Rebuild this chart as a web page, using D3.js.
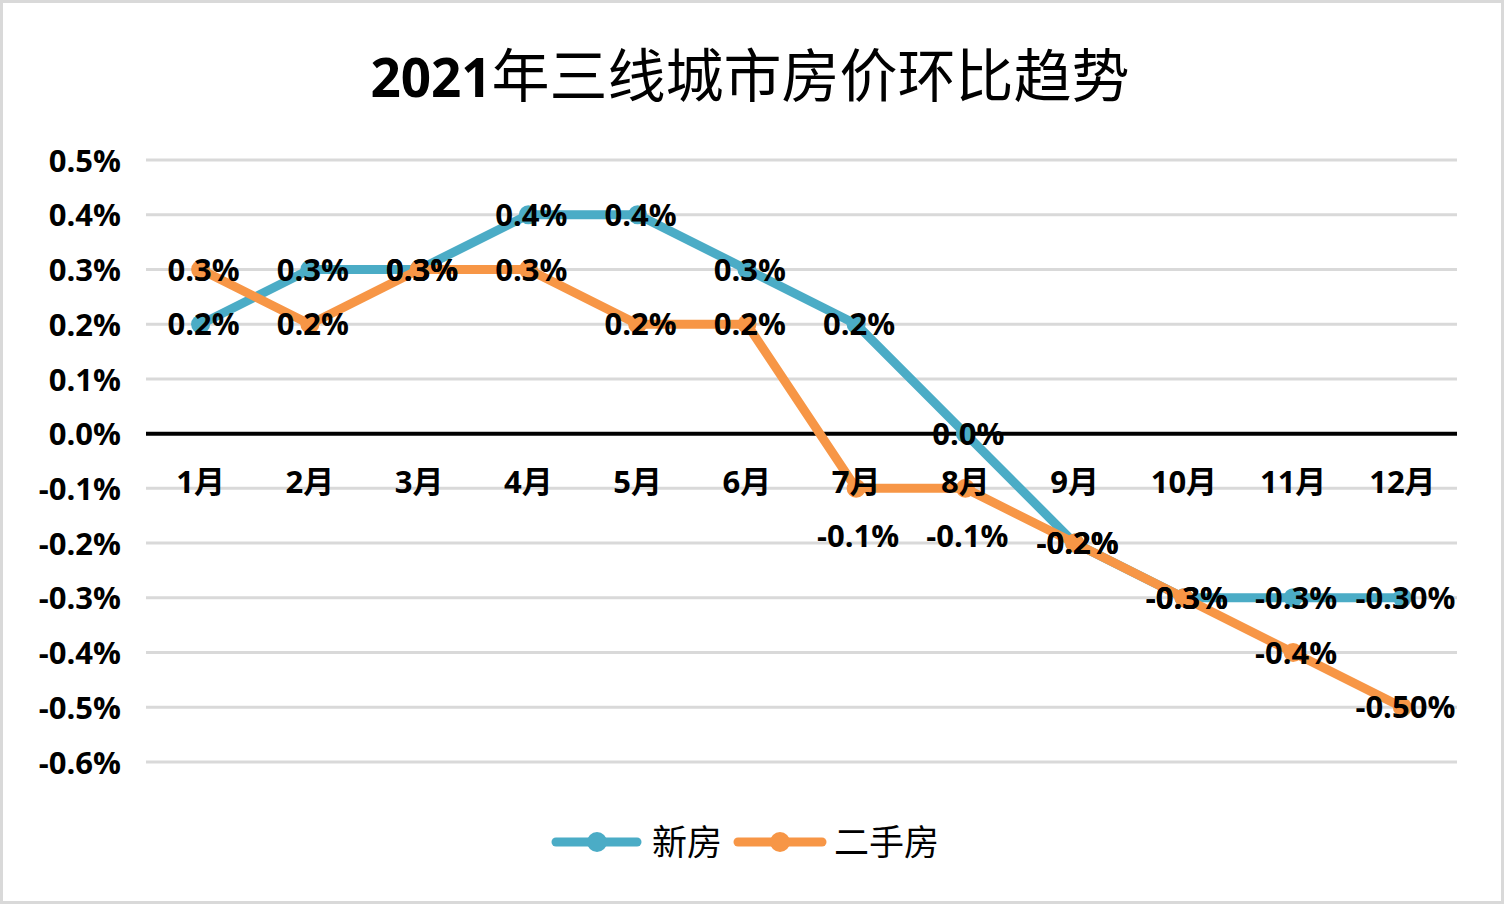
<!DOCTYPE html>
<html><head><meta charset="utf-8">
<script src="https://cdn.jsdelivr.net/npm/d3@7"></script>
<style>
html,body{margin:0;padding:0;background:#fff;}
svg{display:block;}
</style></head>
<body>
<svg id="chart" width="1504" height="904"></svg>
<script>
const categories = ["1月","2月","3月","4月","5月","6月","7月","8月","9月","10月","11月","12月"];
const newHome = [0.2,0.3,0.3,0.4,0.4,0.3,0.2,0.0,-0.2,-0.3,-0.3,-0.3];
const resale = [0.3,0.2,0.3,0.3,0.2,0.2,-0.1,-0.1,-0.2,-0.3,-0.4,-0.5];
const newHomeLabels = ["0.2%","0.3%","0.3%","0.4%","0.4%","0.3%","0.2%","0.0%","-0.2%","-0.3%","-0.3%","-0.30%"];
const resaleLabels = ["0.3%","0.2%","0.3%","0.3%","0.2%","0.2%","-0.1%","-0.1%","-0.2%","-0.3%","-0.4%","-0.50%"];
const resalePlacement = ["c","c","c","c","c","c","b","b","c","c","c","c"];
const yTicks = [0.5,0.4,0.3,0.2,0.1,0.0,-0.1,-0.2,-0.3,-0.4,-0.5,-0.6];
const seriesNames = ["新房","二手房"];
const colors = ["#4BACC6","#F79646"];

const svg = d3.select("#chart");
const W = 1504, H = 904;
svg.append("rect").attr("x",1.5).attr("y",1.5).attr("width",W-3).attr("height",H-3)
  .attr("fill","#fff").attr("stroke","#d9d9d9").attr("stroke-width",3);

const x = d3.scaleBand().domain(categories).range([146,1457]);
const y = d3.scaleLinear().domain([-0.6,0.5]).range([762,160]);
const cx = c => x(c) + x.bandwidth()/2;
const numFont = "'Open Sans','Noto Sans CJK SC',sans-serif";
const pct = d => (d < 0 ? "-" : "") + Math.abs(d).toFixed(1) + "%";

// title
const title = svg.append("text").attr("x",750).attr("y",97).attr("text-anchor","middle")
  .attr("fill","#000");
title.append("tspan").text("2021").attr("font-family",numFont).attr("font-weight",700).attr("font-size",53);
title.append("tspan").text("年三线城市房价环比趋势").attr("font-family","'Noto Sans CJK SC',sans-serif")
  .attr("font-weight",400).attr("font-size",58);

// grid
svg.append("g").selectAll("line").data(yTicks.filter(t=>t!==0)).join("line")
  .attr("x1",146).attr("x2",1457).attr("y1",d=>y(d)).attr("y2",d=>y(d))
  .attr("stroke","#d9d9d9").attr("stroke-width",3);

// y axis labels via axis
const yAxis = d3.axisLeft(y).tickValues(yTicks).tickFormat(pct).tickSize(0).tickPadding(0);
const yg = svg.append("g").attr("transform","translate(121,0)").call(yAxis);
yg.select(".domain").remove();
yg.selectAll("text").attr("font-family",numFont).attr("font-weight",700).attr("font-size",31).attr("fill","#000")
  .attr("dy","0.36em");

// zero line
svg.append("line").attr("x1",146).attr("x2",1457).attr("y1",y(0)).attr("y2",y(0))
  .attr("stroke","#000").attr("stroke-width",4);

// series
const series = [
  {name:seriesNames[0], values:newHome, labels:newHomeLabels, color:colors[0], place:newHome.map(()=>"c")},
  {name:seriesNames[1], values:resale, labels:resaleLabels, color:colors[1], place:resalePlacement}
];
const line = d3.line().x((d,i)=>cx(categories[i])).y(d=>y(d));
series.forEach(s=>{
  svg.append("path").datum(s.values).attr("d",line).attr("fill","none")
    .attr("stroke",s.color).attr("stroke-width",9).attr("stroke-linejoin","round").attr("stroke-linecap","round");
  svg.append("g").selectAll("circle").data(s.values).join("circle")
    .attr("cx",(d,i)=>cx(categories[i])).attr("cy",d=>y(d)).attr("r",9.5).attr("fill",s.color);
});

// category labels
const xAxis = d3.axisBottom(x).tickSize(0).tickPadding(0);
const xg = svg.append("g").attr("transform",`translate(0,${y(0)})`).call(xAxis);
xg.select(".domain").remove();
xg.selectAll("text").attr("font-family",numFont).attr("font-weight",700).attr("font-size",31).attr("fill","#000")
  .attr("dy",0).attr("y",59);

// data labels
series.forEach(s=>{
  svg.append("g").selectAll("text").data(s.values).join("text")
    .attr("x",(d,i)=>cx(categories[i]) + (s.place[i]==="b" ? 2 : 3))
    .attr("y",(d,i)=>y(d) + (s.place[i]==="b" ? 47 : 0))
    .attr("dy","0.36em").attr("text-anchor","middle")
    .attr("font-family",numFont).attr("font-weight",700).attr("font-size",31).attr("fill","#000")
    .text((d,i)=>s.labels[i]);
});

// legend
const legend = [
  {x1:556,x2:637,mx:597,tx:652},
  {x1:738,x2:822,mx:780,tx:834}
];
series.forEach((s,i)=>{
  const L = legend[i];
  svg.append("line").attr("x1",L.x1).attr("x2",L.x2).attr("y1",842).attr("y2",842)
    .attr("stroke",s.color).attr("stroke-width",9).attr("stroke-linecap","round");
  svg.append("circle").attr("cx",L.mx).attr("cy",842).attr("r",10).attr("fill",s.color);
  svg.append("text").attr("x",L.tx).attr("y",842).attr("dy","0.36em")
    .attr("font-family","'Noto Sans CJK SC',sans-serif").attr("font-size",35).attr("fill","#000")
    .text(s.name);
});
</script>
</body></html>
